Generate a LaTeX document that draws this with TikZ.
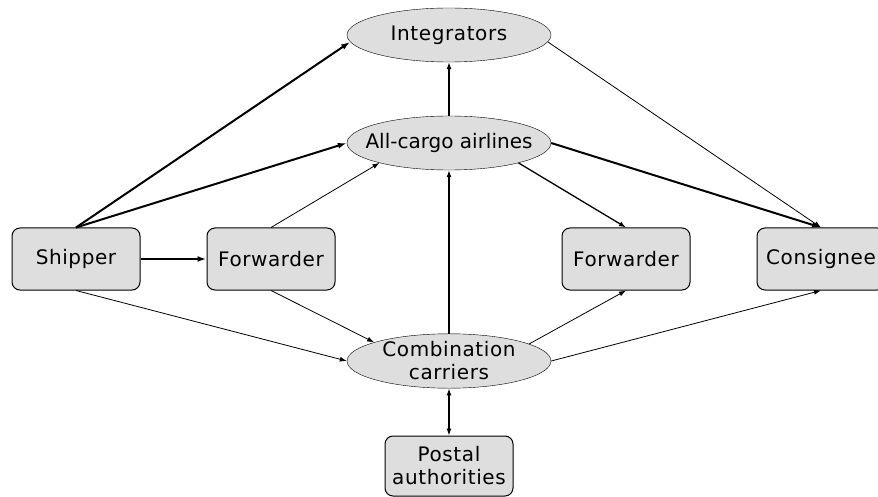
\documentclass[tikz,border=0pt]{standalone}
\usepackage{fontspec}
\setmainfont{DejaVu Sans}[LetterSpace=3]
\usetikzlibrary{shapes.geometric,arrows.meta}
\begin{document}
\begin{tikzpicture}[x=1pt,y=-1pt,
  party/.style={draw,line width=1pt,rounded corners=8pt,fill=black!13,minimum width=128pt,minimum height=62pt,inner sep=1pt,align=center,font=\fontsize{20}{23}\selectfont},
  carrier/.style={draw,ellipse,fill=black!13,minimum width=204pt,minimum height=54pt,inner xsep=-20pt,inner ysep=0pt,align=center,font=\fontsize{20}{23}\selectfont},
  flow/.style={-{Latex[length=7pt,width=5pt]},line width=0.8pt},
  bigflow/.style={-{Latex[length=9pt,width=6pt]},line width=2pt}]
\useasboundingbox (0,0) rectangle (878,497);
% parties
\node[party] (ship) at (76,259) {Shipper};
\node[party] (fwdA) at (271,259) {Forwarder};
\node[party] (fwdB) at (626,259) {Forwarder};
\node[party] (cons) at (821,259) {Consignee};
\node[party,minimum height=60pt] (post) at (449,466) {Postal\\authorities};
% carriers
\node[carrier] (integ) at (449,35) {Integrators};
\node[carrier] (cargo) at (449,143) {\addfontfeatures{LetterSpace=0}All-cargo airlines};
\node[carrier] (comb) at (449,361) {Combination\\carriers};
% flows
\draw[bigflow] (ship.north) -- (integ.184);
\draw[bigflow] (ship.north) -- (cargo.west);
\draw[bigflow] (ship.east) -- (fwdA.west);
\draw[flow] (ship.south) -- (comb.west);
\draw[flow] (fwdA.north) -- (cargo.196);
\draw[flow] (fwdA.south) -- (comb.166);
\draw[flow,line width=1.2pt] (comb.north) -- (cargo.south);
\draw[flow,line width=1.2pt] (cargo.north) -- (integ.south);
\draw[flow] (integ.356) -- (cons.north);
\draw[bigflow] (cargo.east) -- (cons.north);
\draw[flow,line width=1.3pt] (cargo.344) -- (fwdB.north);
\draw[flow] (comb.12) -- (fwdB.south);
\draw[flow] (comb.east) -- (cons.south);
\draw[flow,{Latex[length=7pt,width=5pt]}-{Latex[length=7pt,width=5pt]},line width=1.2pt] (comb.south) -- (post.north);
\end{tikzpicture}
\end{document}
